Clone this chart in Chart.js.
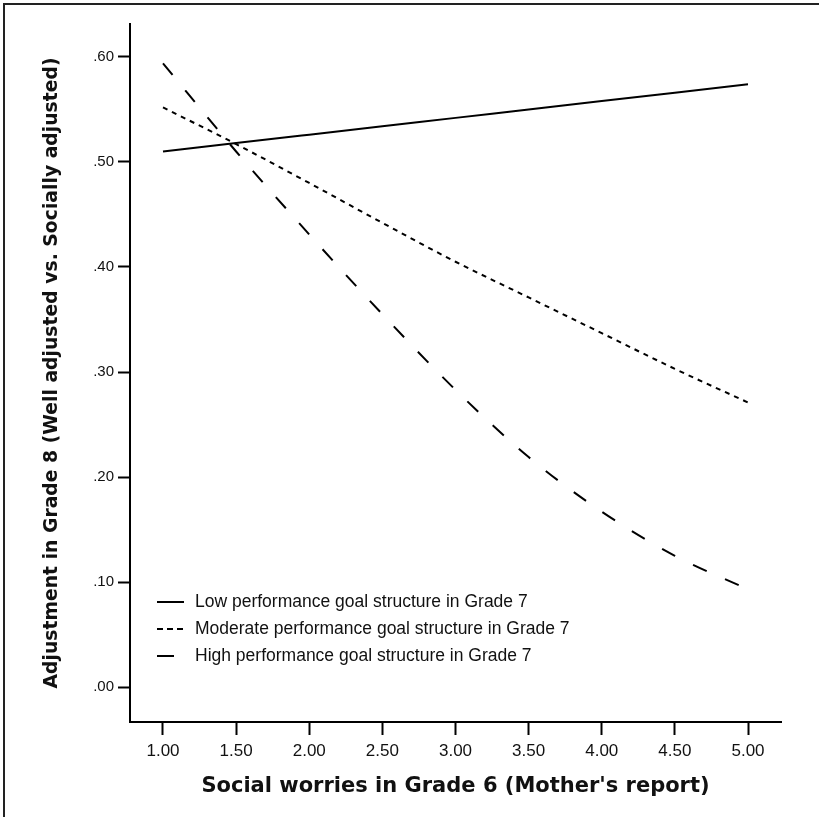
<!DOCTYPE html>
<html>
<head>
<meta charset="utf-8">
<title>Adjustment in Grade 8 by social worries</title>
<script src="https://cdn.jsdelivr.net/npm/chart.js@4.4.0/dist/chart.umd.min.js"></script>
<style>
  html, body { margin: 0; padding: 0; background: #fff; }
  #chartBox { width: 819px; height: 817px; }
</style>
</head>
<body>
<div id="chartBox"><canvas id="worriesChart" width="819" height="817"></canvas></div>
<script>
// values (x = social worries, y = predicted adjustment)
const socialWorries = [1.0, 1.5, 2.0, 2.5, 3.0, 3.5, 4.0, 4.5, 5.0];
const lowGoal      = [0.510, 0.518, 0.526, 0.534, 0.542, 0.550, 0.558, 0.566, 0.574];
const moderateGoal = [0.552, 0.517, 0.480, 0.442, 0.405, 0.371, 0.337, 0.303, 0.271];
const highGoal     = [0.594, 0.510, 0.431, 0.355, 0.283, 0.219, 0.167, 0.125, 0.093];

const seriesLabels = [
    'Low performance goal structure in Grade 7',
    'Moderate performance goal structure in Grade 7',
    'High performance goal structure in Grade 7'
];
const xTicks = [1.0, 1.5, 2.0, 2.5, 3.0, 3.5, 4.0, 4.5, 5.0];
const yTicks = [0.0, 0.1, 0.2, 0.3, 0.4, 0.5, 0.6];

const FONT = '"Liberation Sans", Arial, sans-serif';
const TITLE_FONT = '"DejaVu Sans", Verdana, sans-serif';

const toPoints = ys => socialWorries.map((x, i) => ({ x, y: ys[i] }));

// legend dash patterns (slightly different from the plotted ones, like the original)
const legendDash = [[], [6, 4], [17, 20]];

/* outer frame: only left and top edges are visible in the original */
const framePlugin = {
    id: 'frame',
    afterDraw(chart) {
        const ctx = chart.ctx;
        ctx.save();
        ctx.strokeStyle = '#222';
        ctx.lineWidth = 2;
        ctx.beginPath();
        ctx.moveTo(4, chart.height);
        ctx.lineTo(4, 4);
        ctx.lineTo(chart.width, 4);
        ctx.stroke();
        ctx.restore();
    }
};

/* legend drawn inside the plot, bottom-left */
const insideLegend = {
    id: 'insideLegend',
    afterDraw(chart) {
        const ctx = chart.ctx;
        const rows = [602, 629, 656];
        ctx.save();
        ctx.font = '17.5px ' + FONT;
        ctx.fillStyle = '#111';
        ctx.textBaseline = 'middle';
        chart.data.datasets.forEach((ds, i) => {
            const y = rows[i];
            ctx.strokeStyle = '#000';
            ctx.lineWidth = 2;
            ctx.setLineDash(legendDash[i]);
            ctx.beginPath();
            ctx.moveTo(157, y);
            ctx.lineTo(184, y);
            ctx.stroke();
            ctx.setLineDash([]);
            ctx.fillText(ds.label, 195, y);
        });
        ctx.restore();
    }
};

const fmtY = v => v.toFixed(2).replace(/^0/, '');

new Chart(document.getElementById('worriesChart').getContext('2d'), {
    type: 'line',
    data: {
        datasets: [
            { label: seriesLabels[0], data: toPoints(lowGoal), borderDash: [] },
            { label: seriesLabels[1], data: toPoints(moderateGoal), borderDash: [5, 5] },
            { label: seriesLabels[2], data: toPoints(highGoal), borderDash: [15, 20] }
        ].map(ds => Object.assign(ds, {
            borderColor: '#000',
            borderWidth: 2,
            pointRadius: 0,
            fill: false,
            cubicInterpolationMode: 'monotone'
        }))
    },
    options: {
        responsive: false,
        animation: false,
        devicePixelRatio: 1,
        layout: { padding: { top: 24, right: 38, bottom: 0, left: 0 } },
        plugins: {
            legend: { display: false },
            tooltip: { enabled: false }
        },
        scales: {
            x: {
                type: 'linear',
                min: 0.7744,
                max: 5.2256,
                afterBuildTicks: s => { s.ticks = xTicks.map(value => ({ value })); },
                afterFit: s => { s.height = 95; },
                border: { display: true, color: '#000', width: 2 },
                grid: { drawOnChartArea: false, drawTicks: true, tickLength: 13, tickWidth: 2, tickColor: '#000' },
                ticks: {
                    color: '#111',
                    padding: 6,
                    maxRotation: 0,
                    font: { family: FONT, size: 17 },
                    callback: v => v.toFixed(2)
                },
                title: {
                    display: true,
                    text: "Social worries in Grade 6 (Mother's report)",
                    color: '#111',
                    font: { family: TITLE_FONT, size: 21, weight: 'bold' },
                    padding: { top: 0, bottom: 18 }
                }
            },
            y: {
                type: 'linear',
                min: -0.0333,
                max: 0.6314,
                afterBuildTicks: s => { s.ticks = yTicks.map(value => ({ value })); },
                afterFit: s => { s.width = 130; },
                border: { display: true, color: '#000', width: 2 },
                grid: { drawOnChartArea: false, drawTicks: true, tickLength: 12, tickWidth: 2, tickColor: '#000' },
                ticks: {
                    color: '#111',
                    padding: 4,
                    font: { family: FONT, size: 15 },
                    callback: v => fmtY(v)
                },
                title: {
                    display: true,
                    text: 'Adjustment in Grade 8 (Well adjusted vs. Socially adjusted)',
                    color: '#111',
                    font: { family: TITLE_FONT, size: 18.8, weight: 'bold' },
                    padding: { top: 41, bottom: 0 }
                }
            }
        }
    },
    plugins: [framePlugin, insideLegend]
});
</script>
</body>
</html>
